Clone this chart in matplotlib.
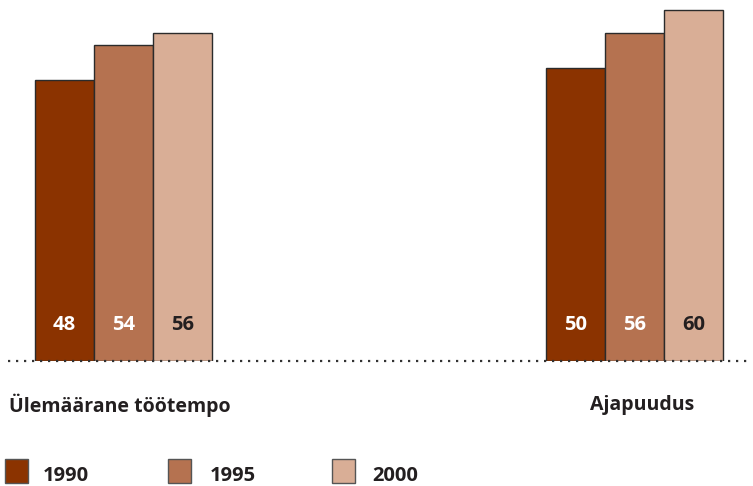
import matplotlib
matplotlib.use("Agg")
import matplotlib.pyplot as plt
from matplotlib.patches import Rectangle
import numpy as np

categories = ["Ülemäärane töötempo", "Ajapuudus"]
years = ["1990", "1995", "2000"]
values = {
    "1990": [48, 50],
    "1995": [54, 56],
    "2000": [56, 60],
}
colors = ["#8B3300", "#B57250", "#D9AE96"]
label_colors = ["white", "white", "#231F20"]
text_color = "#231F20"

plt.rcParams["font.family"] = ["Open Sans", "DejaVu Sans"]

W, H = 753, 486
fig = plt.figure(figsize=(W / 100, H / 100), dpi=100)
fig.patch.set_facecolor("white")

# plot area: baseline at 361 px from top, spanning the full width
base_px = 361
ax = fig.add_axes([0, (H - base_px) / H, 1, base_px / H])
ax.set_axis_off()

group_gap = 511.0           # px between group centres
left_px = 123.5             # px of first group centre
bar_w = 59.0 / group_gap
ax.set_xlim(-left_px / group_gap, (W - left_px) / group_gap)
ax.set_ylim(0, base_px / 5.85)

x = np.arange(len(categories))
offsets = [-bar_w, 0, bar_w]
for yr, off, c, lc in zip(years, offsets, colors, label_colors):
    bars = ax.bar(x + off, values[yr], width=bar_w, color=c,
                  edgecolor="#2b2b2b", linewidth=1.0, zorder=2)
    for b, v in zip(bars, values[yr]):
        ax.text(b.get_x() + b.get_width() / 2, 36 / 5.85, str(v),
                ha="center", va="center", color=lc, fontsize=14.5,
                fontweight="bold", zorder=3)

# dotted baseline
ax.plot([(8 - left_px) / group_gap, (750 - left_px) / group_gap],
        [0, 0], color="#333333", linewidth=1.6,
        linestyle=(0, (1, 2.6)), dash_capstyle="butt",
        clip_on=False, zorder=4)

# category labels under the baseline
label_shift = [-3.5 / group_gap, 7.5 / group_gap]
for xi, name, sh in zip(x, categories, label_shift):
    ax.text(xi + sh, -44 / 5.85, name, ha="center", va="center",
            fontsize=14, fontweight="bold", color=text_color, clip_on=False)

# legend row
leg_items = [(5, 43), (168, 210), (332, 372)]
for (sx, tx), yr, c in zip(leg_items, years, colors):
    fig.patches.append(Rectangle((sx / W, (H - 483) / H), 23 / W, 24 / H,
                                 transform=fig.transFigure, facecolor=c,
                                 edgecolor="#555555", linewidth=1.0))
    fig.text(tx / W, (H - 476) / H, yr, ha="left", va="center",
             fontsize=14.5, fontweight="bold", color=text_color)

fig.savefig("out.png", dpi=100)
